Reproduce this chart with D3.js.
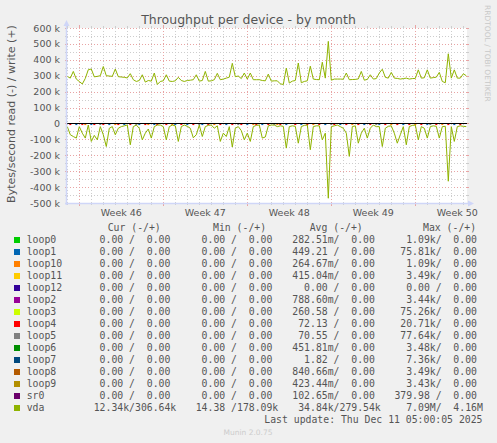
<!DOCTYPE html>
<html>
<head>
<meta charset="utf-8">
<script src="https://cdn.jsdelivr.net/npm/d3@7"></script>
<style>
  body { margin: 0; background: #f0f0f0; }
  svg { display: block; }
  text { font-family: "DejaVu Sans", sans-serif; fill: #555; }
  .mono { font-family: "DejaVu Sans Mono", monospace; font-size: 9.8px; white-space: pre; }
</style>
</head>
<body>
<svg width="497" height="443"></svg>
<script>
// graph window (800 h, 2 h per pixel) and vda samples every 6 h from sampleStart
const windowEnd = new Date(Date.UTC(2025, 11, 11, 7, 24));
const windowStart = new Date(windowEnd.getTime() - 800 * 3600e3);
const sampleStart = new Date(Date.UTC(2025, 10, 8, 0, 0));
const stepHours = 6;

// vda write (+), in k bytes/s
const vdaWrite = [
  296, 285, 327, 279, 264, 248, 283, 338, 342, 293, 296, 300, 358, 300, 298, 296, 342, 294, 292, 290,
  286, 313, 275, 264, 270, 306, 260, 270, 266, 317, 245, 264, 268, 306, 266, 264, 268, 290, 270, 264,
  270, 272, 275, 306, 266, 270, 327, 266, 268, 275, 315, 275, 279, 285, 291, 378, 294, 298, 282, 317,
  279, 317, 275, 275, 275, 270, 268, 310, 266, 268, 268, 249, 245, 348, 254, 266, 270, 380, 256, 264,
  268, 360, 279, 276, 275, 385, 285, 516, 272, 279, 279, 279, 278, 317, 275, 276, 277, 280, 327, 272,
  277, 306, 279, 282, 317, 341, 290, 285, 321, 285, 283, 279, 282, 285, 279, 282, 283, 337, 285, 287,
  337, 285, 288, 291, 321, 264, 256, 438, 285, 337, 285, 285, 312, 300
];
// vda read (-), in k bytes/s
const vdaRead = [
  20, 71, 82, 92, 20, 61, 92, 10, 113, 75, 103, 20, 71, 145, 30, 20, 71, 30, 20, 15,
  10, 134, 20, 10, 30, 103, 61, 35, 92, 20, 10, 10, 20, 103, 20, 10, 15, 113, 20, 10,
  18, 30, 90, 71, 10, 82, 20, 12, 10, 30, 15, 113, 61, 82, 20, 148, 30, 20, 45, 103,
  61, 113, 20, 12, 10, 92, 85, 15, 10, 10, 20, 15, 18, 155, 20, 15, 18, 124, 20, 12,
  10, 165, 20, 15, 15, 103, 61, 470, 20, 15, 10, 20, 30, 61, 207, 20, 15, 124, 61, 30,
  92, 30, 10, 20, 20, 145, 30, 18, 15, 61, 124, 71, 20, 134, 20, 12, 10, 103, 20, 30,
  92, 20, 15, 18, 92, 20, 18, 363, 20, 113, 20, 15, 18, 20
];

// small loop device reads visible just under the zero line (sample indices)
const loop1Blips = [3, 8, 14, 19, 24, 29, 36, 40, 45, 53, 60, 65, 73, 78, 86, 91, 99, 104, 112, 120, 129];
const loop4Blips = [1, 5, 9, 12, 17, 21, 26, 30, 33, 38, 42, 47, 51, 55, 58, 63, 67, 71, 76, 80, 84, 89, 93, 97, 101, 106, 110, 114, 118, 123, 127, 131];
const loop10Blips = [6, 16, 27, 35, 49, 62, 70, 82, 95, 108, 116, 125];
const loop5Blips = [11, 23, 44, 57, 69, 88, 103, 121];
const blipValue = 7000;

const yTicks = [600, 500, 400, 300, 200, 100, 0, -100, -200, -300, -400, -500];

// legend
const devices = ['loop0', 'loop1', 'loop10', 'loop11', 'loop12', 'loop2', 'loop3', 'loop4',
  'loop5', 'loop6', 'loop7', 'loop8', 'loop9', 'sr0', 'vda'];
const deviceColors = ['#00CC00', '#0066B3', '#FF8000', '#FFCC00', '#330099', '#990099', '#CCFF00', '#FF0000',
  '#808080', '#008F00', '#00487D', '#B35A00', '#B38F00', '#6B006B', '#8FB300'];
const curRead = [0, 0, 0, 0, 0, 0, 0, 0, 0, 0, 0, 0, 0, 0, 12340];
const curWrite = [0, 0, 0, 0, 0, 0, 0, 0, 0, 0, 0, 0, 0, 0, 306640];
const minRead = [0, 0, 0, 0, 0, 0, 0, 0, 0, 0, 0, 0, 0, 0, 14.38];
const minWrite = [0, 0, 0, 0, 0, 0, 0, 0, 0, 0, 0, 0, 0, 0, 178090];
const avgRead = [0.28251, 449.21, 0.26467, 0.41504, 0, 0.78860, 260.58, 72.13, 70.55, 0.45181, 1.82, 0.84066, 0.42344, 0.10265, 34840];
const avgWrite = [0, 0, 0, 0, 0, 0, 0, 0, 0, 0, 0, 0, 0, 0, 279540];
const maxRead = [1090, 75810, 1090, 3490, 0, 3440, 75260, 20710, 77640, 3480, 7360, 3490, 3430, 379.98, 7090000];
const maxWrite = [0, 0, 0, 0, 0, 0, 0, 0, 0, 0, 0, 0, 0, 0, 4160000];

const svg = d3.select('svg');
const plot = { left: 67, top: 28, width: 400, height: 175 };

const x = d3.scaleUtc()
  .domain([windowStart, windowEnd])
  .range([plot.left, plot.left + plot.width]);
const y = d3.scaleLinear()
  .domain([-500000, 600000])
  .range([plot.top + plot.height, plot.top]);

const sampleTime = i => new Date(sampleStart.getTime() + i * stepHours * 3600e3);

svg.append('rect').attr('width', 497).attr('height', 443).attr('fill', '#f0f0f0');
svg.append('rect')
  .attr('x', plot.left).attr('y', plot.top)
  .attr('width', plot.width).attr('height', plot.height)
  .attr('fill', '#fff');

const x0 = plot.left, x1 = plot.left + plot.width;
const y0 = plot.top + plot.height, y1 = plot.top;
const gridG = svg.append('g').attr('shape-rendering', 'crispEdges');
const minorColor = '#cdcdcd', majorColor = '#e8a4a4';

// horizontal grid: minor every 50k, major every 100k
const minorH = d3.range(-450000, 600000, 100000);
minorH.forEach(v => {
  const yy = Math.round(y(v)) + 0.5;
  gridG.append('line').attr('x1', x0).attr('x2', x1).attr('y1', yy).attr('y2', yy)
    .attr('stroke', minorColor).attr('stroke-dasharray', '1,2');
  gridG.append('line').attr('x1', x0 - 2).attr('x2', x0).attr('y1', yy).attr('y2', yy).attr('stroke', minorColor);
  gridG.append('line').attr('x1', x1).attr('x2', x1 + 2).attr('y1', yy).attr('y2', yy).attr('stroke', minorColor);
});
yTicks.forEach(v => {
  const yy = Math.round(y(v * 1000)) + 0.5;
  gridG.append('line').attr('x1', x0).attr('x2', x1).attr('y1', yy).attr('y2', yy)
    .attr('stroke', majorColor).attr('stroke-dasharray', '1,2');
  gridG.append('line').attr('x1', x0 - 2).attr('x2', x0).attr('y1', yy).attr('y2', yy).attr('stroke', majorColor);
  gridG.append('line').attr('x1', x1).attr('x2', x1 + 2).attr('y1', yy).attr('y2', yy).attr('stroke', majorColor);
});

// vertical grid: minor every day, major every week (Sunday)
const days = d3.utcDay.range(d3.utcDay.ceil(windowStart), windowEnd);
const weeks = d3.utcSunday.range(d3.utcSunday.ceil(windowStart), windowEnd);
const isWeek = d => d.getUTCDay() === 0;
days.filter(d => !isWeek(d)).forEach(d => {
  const xx = Math.round(x(d)) + 0.5;
  gridG.append('line').attr('x1', xx).attr('x2', xx).attr('y1', y1).attr('y2', y0)
    .attr('stroke', minorColor).attr('stroke-dasharray', '1,2');
  gridG.append('line').attr('x1', xx).attr('x2', xx).attr('y1', y0).attr('y2', y0 + 2).attr('stroke', minorColor);
  gridG.append('line').attr('x1', xx).attr('x2', xx).attr('y1', y1 - 2).attr('y2', y1).attr('stroke', minorColor);
});
weeks.forEach(d => {
  const xx = Math.round(x(d)) + 0.5;
  gridG.append('line').attr('x1', xx).attr('x2', xx).attr('y1', y1).attr('y2', y0)
    .attr('stroke', majorColor).attr('stroke-dasharray', '1,2');
  gridG.append('line').attr('x1', xx).attr('x2', xx).attr('y1', y0).attr('y2', y0 + 3).attr('stroke', majorColor);
  gridG.append('line').attr('x1', xx).attr('x2', xx).attr('y1', y1 - 3).attr('y2', y1).attr('stroke', majorColor);
});

// loop device blips under the zero line
const blipSets = [[loop1Blips, 1], [loop4Blips, 7], [loop10Blips, 2], [loop5Blips, 8]];
blipSets.forEach(([idx, c]) => {
  svg.append('g').selectAll('rect').data(idx).enter().append('rect')
    .attr('x', i => x(sampleTime(i)) - 1)
    .attr('y', y(0))
    .attr('width', 2)
    .attr('height', y(-blipValue) - y(0) + 0.5)
    .attr('fill', deviceColors[c]);
});

// vda lines
const line = d3.line()
  .x((d, i) => x(sampleTime(i)))
  .y(d => y(d));
svg.append('path')
  .datum(vdaWrite.map(v => v * 1000))
  .attr('d', line)
  .attr('fill', 'none').attr('stroke', deviceColors[14]).attr('stroke-width', 1);
svg.append('path')
  .datum(vdaRead.map(v => -v * 1000))
  .attr('d', line)
  .attr('fill', 'none').attr('stroke', deviceColors[14]).attr('stroke-width', 1);

// zero line
svg.append('line')
  .attr('x1', x0).attr('x2', x1)
  .attr('y1', Math.round(y(0)) + 0.5).attr('y2', Math.round(y(0)) + 0.5)
  .attr('stroke', '#000').attr('shape-rendering', 'crispEdges');

// axes with arrows
const axisColor = '#CFD6F8';
svg.append('line').attr('x1', x0 - 0.5).attr('x2', x0 - 0.5).attr('y1', y0 + 2).attr('y2', y1 - 4)
  .attr('stroke', axisColor).attr('stroke-width', 1.5);
svg.append('line').attr('x1', x0 - 2).attr('x2', x1 + 4).attr('y1', y0 + 0.5).attr('y2', y0 + 0.5)
  .attr('stroke', axisColor).attr('stroke-width', 1.5);
svg.append('path').attr('d', `M${x0 - 3.5},${y1 - 2} L${x0 - 0.5},${y1 - 8} L${x0 + 2.5},${y1 - 2} Z`).attr('fill', axisColor);
svg.append('path').attr('d', `M${x1 + 1},${y0 - 2.5} L${x1 + 7},${y0 + 0.5} L${x1 + 1},${y0 + 3.5} Z`).attr('fill', axisColor);

// y tick labels
svg.append('g').selectAll('text').data(yTicks).enter().append('text')
  .attr('x', 60).attr('y', v => y(v * 1000) + 3.5)
  .attr('text-anchor', 'end')
  .style('font-size', '9.5px')
  .text(v => v === 0 ? '0' : `${v} k`);

// week labels, centred in each week
const weekFmt = d3.utcFormat('Week %V');
svg.append('g').selectAll('text').data(weeks).enter().append('text')
  .attr('x', d => x(new Date(d.getTime() + 3.5 * 86400e3)))
  .attr('y', 216)
  .attr('text-anchor', 'middle')
  .style('font-size', '9.5px')
  .text(d => weekFmt(new Date(d.getTime() + 3.5 * 86400e3)));

// titles
svg.append('text').attr('x', 248.5).attr('y', 23.5).attr('text-anchor', 'middle')
  .style('font-size', '12.5px').text('Throughput per device - by month');
svg.append('text').attr('transform', 'translate(15,114) rotate(-90)').attr('text-anchor', 'middle')
  .style('font-size', '11px').text('Bytes/second read (-) / write (+)');
svg.append('text').attr('transform', 'translate(485,5) rotate(90)')
  .style('font-size', '7.5px').style('fill', '#c8c8c8').text('RRDTOOL / TOBI OETIKER');

// legend
const fmt = v => {
  let s = v, p = ' ';
  if (v !== 0) {
    if (Math.abs(v) >= 1e6) { s = v / 1e6; p = 'M'; }
    else if (Math.abs(v) >= 1e3) { s = v / 1e3; p = 'k'; }
    else if (Math.abs(v) < 1) { s = v * 1e3; p = 'm'; }
  }
  return s.toFixed(2).padStart(6, ' ') + p;
};
const colX = [87.8, 189.8, 292.3, 394.4];
const headers = [['Cur (-/+)', 107.7], ['Min (-/+)', 213], ['Avg (-/+)', 309.7], ['Max (-/+)', 423]];
headers.forEach(([t, hx]) => {
  svg.append('text').attr('class', 'mono').attr('x', hx).attr('y', 230.5).text(t);
});
const rowY = i => 243 + i * 12;
const leg = svg.append('g');
devices.forEach((name, i) => {
  leg.append('rect').attr('x', 14).attr('y', rowY(i) - 6).attr('width', 6).attr('height', 6)
    .attr('fill', deviceColors[i]);
  leg.append('text').attr('class', 'mono').attr('x', 26.7).attr('y', rowY(i)).text(name);
  const fields = [
    fmt(curRead[i]) + '/' + fmt(curWrite[i]),
    fmt(minRead[i]) + '/' + fmt(minWrite[i]),
    fmt(avgRead[i]) + '/' + fmt(avgWrite[i]),
    fmt(maxRead[i]) + '/' + fmt(maxWrite[i])
  ];
  fields.forEach((f, c) => {
    leg.append('text').attr('class', 'mono').attr('x', colX[c]).attr('y', rowY(i)).text(f);
  });
});
svg.append('text').attr('class', 'mono').attr('x', 482.5).attr('y', rowY(15))
  .attr('text-anchor', 'end').text('Last update: Thu Dec 11 05:00:05 2025');
svg.append('text').attr('x', 248).attr('y', 434.5).attr('text-anchor', 'middle')
  .style('font-size', '7.5px').style('fill', '#cccccc').text('Munin 2.0.75');
</script>
</body>
</html>
